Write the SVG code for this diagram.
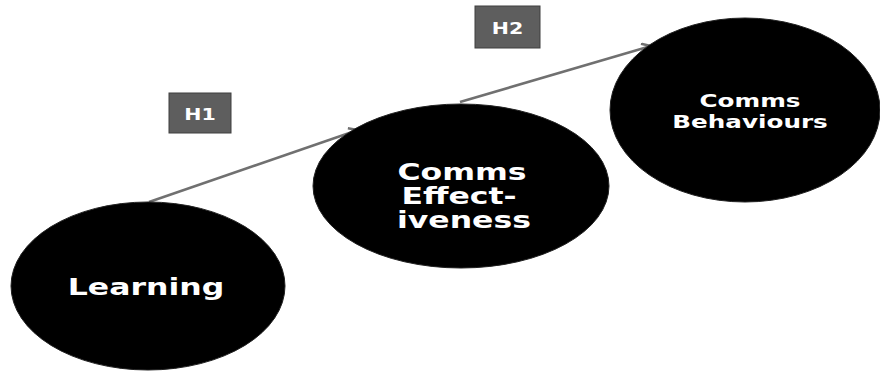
<svg xmlns="http://www.w3.org/2000/svg" width="880" height="372" viewBox="0 0 880 372">
<defs>
<style>
.node{fill:#000;stroke:#222;stroke-width:1}
.lbl{fill:#fff;font-family:"DejaVu Sans",Verdana,sans-serif;font-weight:bold;text-anchor:middle}
.hbox{fill:#5e5e5e;stroke:#3f3f3f;stroke-width:1}
.conn{stroke:#707070;stroke-width:2.5;fill:none}
</style>
<marker id="arr" markerWidth="12" markerHeight="12" refX="10" refY="6" orient="auto" markerUnits="userSpaceOnUse">
<path d="M1,1 L10,6 L1,11" fill="none" stroke="#707070" stroke-width="2.5"/>
</marker>
</defs>
<g id="connectors">
<line class="conn" x1="149" y1="202" x2="358" y2="130" marker-end="url(#arr)"/>
<line class="conn" x1="460" y1="102" x2="651" y2="46" marker-end="url(#arr)"/>
</g>
<g id="h1">
<rect class="hbox" x="169" y="93" width="62" height="40"/>
<text class="lbl" transform="translate(200,120) scale(1.37,1)" font-size="15">H1</text>
</g>
<g id="h2">
<rect class="hbox" x="475" y="6" width="65" height="42"/>
<text class="lbl" transform="translate(507.5,34) scale(1.37,1)" font-size="15">H2</text>
</g>
<g id="learning">
<ellipse class="node" cx="148" cy="286" rx="137" ry="84"/>
<text class="lbl" transform="translate(146,295) scale(1.37,1)" font-size="23">Learning</text>
</g>
<g id="comms-effectiveness">
<ellipse class="node" cx="461" cy="186" rx="148" ry="82"/>
<text class="lbl" transform="translate(462,180) scale(1.37,1)" font-size="23">Comms</text>
<text class="lbl" transform="translate(459,204) scale(1.37,1)" font-size="23">Effect-</text>
<text class="lbl" transform="translate(464,228) scale(1.37,1)" font-size="23">iveness</text>
</g>
<g id="comms-behaviours">
<ellipse class="node" cx="745" cy="110" rx="135" ry="92"/>
<text class="lbl" transform="translate(750,107) scale(1.37,1)" font-size="18">Comms</text>
<text class="lbl" transform="translate(750,128) scale(1.37,1)" font-size="18">Behaviours</text>
</g>
</svg>
